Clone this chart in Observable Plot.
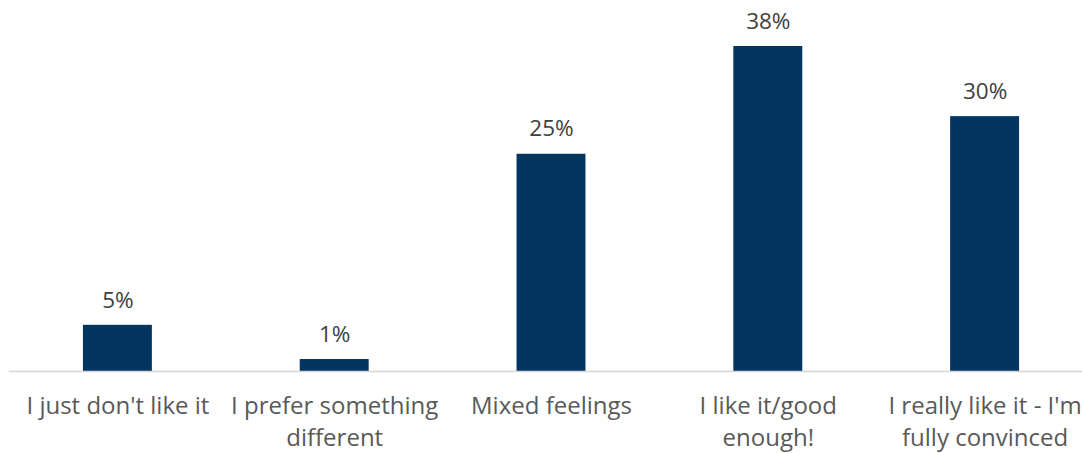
<!DOCTYPE html>
<html>
<head>
<meta charset="utf-8">
<script src="https://cdn.jsdelivr.net/npm/d3@7"></script>
<script src="https://cdn.jsdelivr.net/npm/@observablehq/plot@0.6"></script>
<style>
  html, body { margin: 0; padding: 0; background: #ffffff; }
  #chart svg { display: block; }
</style>
</head>
<body>
<div id="chart"></div>
<script>
const categories = [
  "I just don't like it",
  "I prefer something different",
  "Mixed feelings",
  "I like it/good enough!",
  "I really like it - I'm fully convinced"
];
const tickLabels = [
  "I just don't like it",
  "I prefer something\ndifferent",
  "Mixed feelings",
  "I like it/good\nenough!",
  "I really like it - I'm\nfully convinced"
];
const values = [5.4, 1.4, 25.4, 38.0, 29.8];

const data = categories.map((c, i) => ({category: c, value: values[i], tick: tickLabels[i]}));
const fmt = d => d3.format(".0f")(d) + "%";

const chart = Plot.plot({
  width: 1082,
  height: 453,
  marginTop: 46,
  marginBottom: 82,
  marginLeft: 9,
  marginRight: 0,
  style: {fontFamily: "'Open Sans', sans-serif", background: "#ffffff"},
  x: {domain: categories, range: [9, 1093], paddingInner: 0.682, paddingOuter: 0.341, round: false, axis: null},
  y: {domain: [0, 38], axis: null},
  marks: [
    Plot.barY(data, {x: "category", y: "value", fill: "#023661"}),
    Plot.ruleY([0], {stroke: "#d6d6d6", strokeWidth: 1.5}),
    Plot.text(data, {x: "category", y: "value", text: d => fmt(d.value), lineAnchor: "middle", dy: -25, fontSize: 22.5, fill: "#404040"}),
    Plot.text(data, {x: "category", y: 0, text: "tick", lineAnchor: "top", dy: 20, fontSize: 24, lineHeight: 1.34, fill: "#595959"})
  ]
});
document.getElementById("chart").appendChild(chart);
</script>
</body>
</html>
